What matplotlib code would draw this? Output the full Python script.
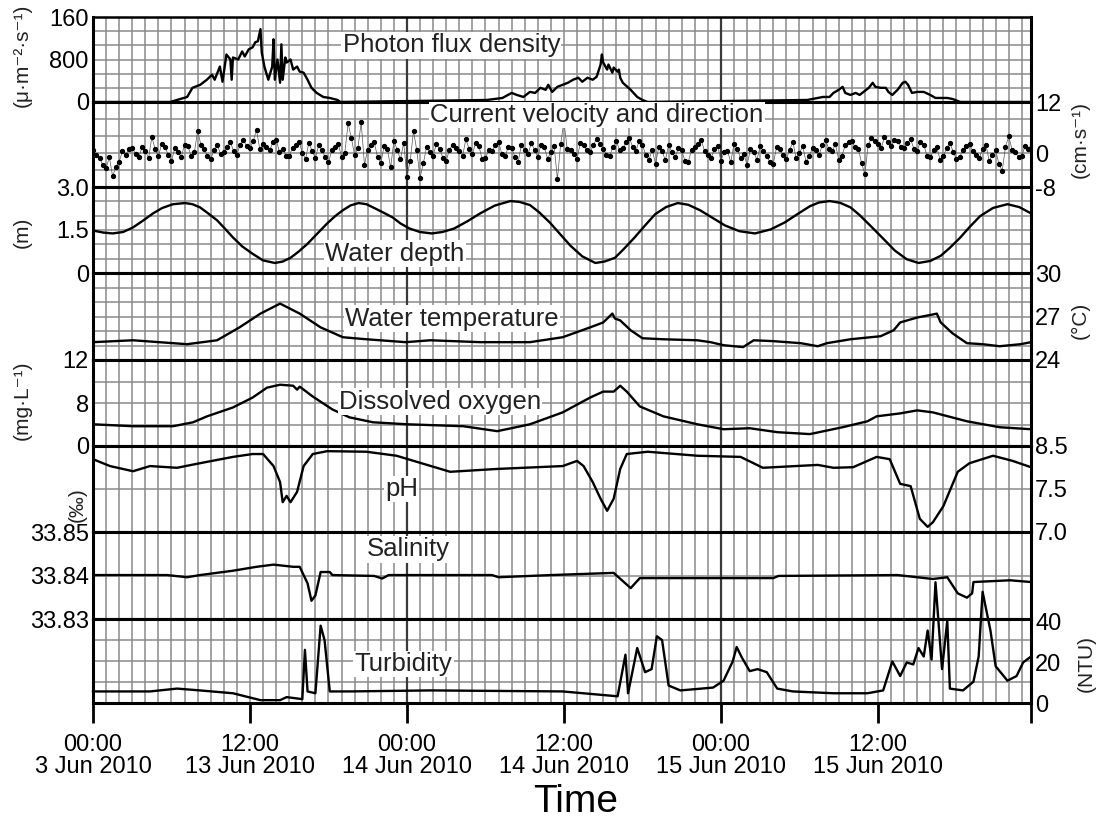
import matplotlib
matplotlib.use('Agg')
import matplotlib.pyplot as plt
import numpy as np

plt.rcParams['font.family'] = ['Liberation Sans', 'DejaVu Sans']

# ---------------- data (hours since 13 Jun 2010 00:00) ----------------
photon_t = [0, 5.9, 7.2, 7.6, 8.2, 8.7, 9.1, 9.3, 9.7, 9.9, 10.2, 10.5, 10.6, 10.7, 11.1, 11.4,
            11.6, 11.9, 12.2, 12.4, 12.6, 12.8, 12.9, 13.1, 13.4, 13.7, 13.8, 13.9, 14.1, 14.3,
            14.4, 14.5, 14.7, 14.8, 15.1, 15.3, 15.6, 15.8, 16.1, 16.4, 16.7, 17.1, 17.6, 18.1,
            18.7, 18.9,
            30.1, 31.3, 32.0, 32.4, 32.9, 33.4, 33.8, 34.2, 34.6, 34.8, 35.1, 35.5, 35.9, 36.3,
            36.7, 37.1, 37.4, 37.8, 38.2, 38.5, 38.8, 38.9, 39.0, 39.3, 39.4, 39.7, 39.8, 40.1,
            40.2, 40.3, 40.5, 41.1, 41.6, 42.0, 42.4,
            54.6, 55.4, 55.8, 56.3, 56.6, 57.0, 57.3, 57.5, 57.9, 58.3, 58.6, 58.9, 59.3, 59.6,
            59.8, 60.2, 60.6, 60.8, 61.1, 61.5, 61.9, 62.1, 62.3, 62.6, 63.0, 63.5, 64.0, 64.4,
            64.8, 65.3, 65.7, 66.3, 71.7]
photon_v = [0, 0, 95, 267, 324, 419, 514, 419, 667, 381, 895, 800, 419, 838, 800, 952,
            857, 990, 1029, 1124, 1143, 1371, 933, 667, 419, 667, 1181, 419, 800, 362,
            1086, 419, 838, 743, 800, 610, 667, 571, 552, 419, 267, 171, 95, 76,
            38, 0,
            38, 76, 171, 133, 95, 190, 171, 267, 229, 324, 190, 286, 324, 362,
            419, 457, 381, 457, 419, 476, 705, 895, 743, 610, 705, 552, 648, 571,
            610, 457, 362, 229, 95, 38, 0,
            38, 76, 95, 95, 171, 229, 286, 171, 133, 171, 133, 190, 267, 362,
            286, 267, 267, 190, 133, 229, 362, 381, 324, 171, 190, 190, 133, 76,
            76, 76, 57, 0, 0]

# current velocity read every 15 min: values on the half hour and on the quarter past/to
current_half = [0.8, -1.2, -3.5, -5.5, -2.0, -0.5, 1.2, -1.0, 0.5, 3.8, -0.8, 1.5, -1.8, 0.3, 2.0, -0.6,
                5.2, 0.9, -1.5, 1.8, 0.2, 2.6, -0.4, 3.0, 1.2, 5.4, 2.2, 0.6, 3.1, 1.0, -0.8, 1.8,
                0.0, 2.4, -1.2, 0.7, -2.2, 1.5, -1.0, 7.0, -0.5, 7.2, 0.8, 2.5, -2.4, 1.0, 2.8, -1.5,
                -5.6, 5.2, -5.8, 1.4, -0.6, 0.9, -1.8, 2.0, 0.4, 3.2, -0.3, 1.6, -1.2, 0.5, 2.6, -0.8,
                1.1, -2.0, 0.7, 2.3, -0.9, 1.3, 0.2, -6.2, 7.4, 0.8, -1.4, 1.9, 0.3, 3.4, 1.0, -0.6,
                2.8, 1.2, 3.6, 0.5, 2.0, -1.6, -2.6, 0.4, 1.8, -1.0, 0.6, -2.2, 1.5, 3.0, -0.4, 0.9,
                -1.8, 0.5, 2.2, -1.2, -2.8, 0.3, 1.6, -0.8, -2.5, 0.9, -1.4, 2.5, 0.0, -2.0, 1.2, -0.5,
                3.0, 0.4, -1.6, 1.8, 2.8, 1.0, -5.0, 3.5, 2.2, 3.8, 1.6, 2.9, 1.2, 3.2, 0.5, 2.0,
                -1.0, 1.3, -0.8, 2.4, -1.5, 0.7, 2.1, -0.4, 1.0, -1.8, 0.6, -4.2, 3.9, 0.3, -0.6, 0.9]
current_quarter = [-0.5, -2.8, -1.0, -3.2, 0.4, 1.0, -0.2, 1.4, -1.2, 0.9, 2.2, -0.4, 1.1, -0.9, 1.6, 0.2,
                   1.9, -0.7, 0.8, -0.2, 1.5, 0.4, 2.0, 1.6, 2.8, 0.9, 1.4, 2.5, 0.3, -0.6, 1.2, 2.7,
                   -1.4, 0.5, 1.9, -1.0, 0.6, 2.2, 0.1, 3.5, 1.2, -2.8, 2.0, -0.9, 1.6, -3.4, 0.8, 2.4,
                   -1.8, 0.6, -2.4, 0.2, 2.1, -1.1, 0.8, 1.2, -0.7, 1.0, 2.4, -1.5, 0.7, 1.8, -0.2, 1.5,
                   -0.9, 1.9, -0.3, 0.8, 2.0, -1.3, 1.6, 2.2, 0.9, -0.3, 2.4, 0.6, 1.8, 2.2, -0.4, 1.5,
                   0.7, 2.5, 1.4, 2.9, -0.5, 0.8, 1.5, -1.7, 0.3, 1.1, -1.9, 0.8, 2.2, 0.4, -1.1, 1.7,
                   0.2, -2.2, 1.0, -0.3, 0.9, -1.6, 0.4, -2.1, 1.3, -0.5, 0.8, -1.2, 1.6, -0.8, 0.6, 1.9,
                   0.9, 2.1, -0.6, 2.6, 1.4, -2.4, 1.8, 2.9, 1.1, 2.6, 3.1, 1.5, 2.3, 1.0, 2.7, -0.7,
                   0.6, -1.6, 1.2, 0.3, -0.9, 1.6, 0.4, -1.2, 2.0, -0.5, -2.6, 1.5, 0.8, -1.0, 1.7, 2.2]
current_t = np.arange(0, 72, 0.25)
current_v = np.empty(len(current_t))
current_v[0::2] = current_half
current_v[1::2] = current_quarter

depth_t = [0, 0.8, 1.5, 2.3, 3.06, 3.8, 4.59, 5.3, 6.12, 7.03, 7.6, 8.18, 8.8, 9.48, 10.1, 10.7,
           11.4, 12.2, 13.0, 13.9, 14.5, 15.1, 15.7, 16.4, 17.2, 17.9, 18.5, 19.1, 19.7, 20.3,
           20.9, 21.4, 22.1, 22.9, 23.5, 24.2, 25.0, 25.9, 26.7, 27.6, 28.6, 29.6, 30.7, 31.9,
           32.6, 33.4, 34.1, 34.9, 35.7, 36.5, 37.4, 38.4, 39.1, 39.9, 40.6, 41.4, 42.2, 42.97,
           43.8, 44.7, 45.5, 46.4, 47.3, 48.3, 49.4, 50.6, 51.8, 52.9, 53.9, 54.8, 55.5, 56.3,
           57.1, 57.9, 58.6, 59.4, 60.4, 61.3, 62.2, 63.1, 64.0, 64.8, 65.5, 66.3, 67.0, 67.8,
           68.8, 69.9, 70.8, 71.7]
depth_v = [1.48, 1.41, 1.38, 1.43, 1.59, 1.82, 2.08, 2.27, 2.40, 2.44, 2.40, 2.29, 2.08, 1.84, 1.54, 1.24,
           0.93, 0.67, 0.44, 0.35, 0.40, 0.53, 0.74, 1.02, 1.40, 1.73, 1.98, 2.19, 2.36, 2.44,
           2.40, 2.29, 2.13, 1.94, 1.73, 1.55, 1.43, 1.38, 1.43, 1.55, 1.80, 2.08, 2.35, 2.51,
           2.48, 2.37, 2.12, 1.77, 1.36, 0.95, 0.58, 0.35, 0.40, 0.53, 0.85, 1.24, 1.66, 2.05,
           2.30, 2.44, 2.38, 2.19, 1.94, 1.66, 1.46, 1.38, 1.52, 1.77, 2.07, 2.33, 2.46, 2.51,
           2.45, 2.29, 2.02, 1.66, 1.20, 0.78, 0.48, 0.35, 0.42, 0.60, 0.88, 1.24, 1.60, 1.98,
           2.27, 2.40, 2.30, 2.08]

temp_t = [0, 3.06, 7.19, 9.48, 11.2, 12.8, 14.3, 15.8, 17.4, 19.1, 20.9, 23.9, 25.8, 29.6, 33.4,
          35.9, 38.0, 39.0, 39.7, 39.9, 40.3, 41.1, 42.0, 43.6, 46.2, 47.2, 48.2, 49.7, 50.5,
          52.0, 54.1, 55.4, 56.1, 57.9, 60.2, 61.2, 61.7, 63.0, 64.2, 64.5, 64.8, 65.7, 66.8,
          68.0, 69.3, 70.9, 71.7]
temp_v = [25.23, 25.36, 25.09, 25.36, 26.25, 27.20, 27.89, 27.20, 26.25, 25.57, 25.43, 25.23, 25.36,
          25.23, 25.23, 25.57, 26.25, 26.59, 27.20, 26.86, 26.73, 26.05, 25.50, 25.43, 25.36, 25.23,
          25.02, 24.89, 25.36, 25.30, 25.16, 24.95, 25.16, 25.43, 25.64, 26.05, 26.59, 26.93, 27.14,
          27.20, 26.59, 25.84, 25.16, 25.09, 24.95, 25.09, 25.23]

do_t = [0, 3.06, 6.12, 7.65, 8.72, 10.7, 12.2, 13.3, 14.3, 15.3, 15.6, 15.8, 16.8, 18.3, 19.6,
        21.4, 24.0, 28.3, 30.9, 33.4, 35.9, 38.0, 39.0, 39.8, 40.3, 40.8, 41.8, 43.6, 46.2, 48.2,
        50.2, 52.3, 54.8, 57.3, 59.2, 59.9, 61.7, 63.0, 64.2, 66.8, 69.3, 71.7]
do_v = [3.03, 2.76, 2.76, 3.31, 4.14, 5.38, 6.76, 8.14, 8.55, 8.41, 7.86, 8.28, 6.90, 5.10, 4.00,
        3.31, 3.03, 2.76, 2.07, 3.03, 4.69, 6.76, 7.59, 7.59, 8.41, 7.59, 5.52, 4.14, 3.03, 2.34,
        2.48, 1.93, 1.66, 2.62, 3.45, 4.14, 4.55, 4.97, 4.69, 3.45, 2.62, 2.34]

ph_t = [0, 1.3, 3.06, 4.36, 6.42, 8.18, 10.7, 12.2, 13.0, 13.8, 14.3, 14.5, 14.8, 15.1, 15.6,
        16.1, 16.8, 17.9, 20.9, 23.2, 27.3, 30.9, 35.9, 37.0, 37.5, 38.2, 38.8, 39.3, 39.8,
        40.3, 40.8, 42.4, 46.2, 49.5, 51.2, 55.4, 56.6, 58.1, 59.9, 60.9, 61.7, 62.5, 63.2,
        63.8, 64.2, 65.0, 66.1, 67.0, 68.8, 70.3, 71.7]
ph_v = [8.27, 8.15, 8.06, 8.15, 8.12, 8.20, 8.31, 8.36, 8.36, 8.15, 7.87, 7.52, 7.63, 7.52, 7.70,
        8.15, 8.36, 8.41, 8.40, 8.33, 8.05, 8.10, 8.15, 8.24, 8.15, 7.87, 7.58, 7.37, 7.58,
        8.10, 8.36, 8.40, 8.33, 8.31, 8.12, 8.17, 8.12, 8.13, 8.31, 8.27, 7.84, 7.80, 7.23,
        7.09, 7.17, 7.45, 8.05, 8.20, 8.33, 8.24, 8.13]

sal_t = [0, 5.66, 7.19, 8.18, 10.7, 12.5, 13.8, 15.3, 15.8, 16.4, 16.7, 17.0, 17.4, 18.1, 18.3,
         21.5, 22.1, 22.6, 24.0, 30.5, 31.0, 35.0, 39.8, 41.1, 41.8, 46.4, 52.0, 52.4, 61.5,
         64.2, 65.3, 66.1, 66.8, 67.2, 67.3, 70.1, 71.7]
sal_v = [33.8401, 33.8401, 33.8396, 33.8401, 33.8411, 33.8420, 33.8425, 33.8420, 33.8420, 33.8382,
         33.8342, 33.8354, 33.8408, 33.8408, 33.8401, 33.8399, 33.8393, 33.8401, 33.8401, 33.8401,
         33.8396, 33.8401, 33.8406, 33.8371, 33.8394, 33.8394, 33.8394, 33.8399, 33.8401, 33.8392,
         33.8396, 33.8359, 33.8349, 33.8359, 33.8385, 33.8389, 33.8385]

turb_t = [0, 4.36, 6.42, 8.18, 10.7, 12.8, 14.3, 14.8, 16.0, 16.2, 16.4, 17.0, 17.4, 17.7, 18.1,
          19.6, 25.8, 35.9, 40.1, 40.7, 40.9, 41.6, 42.2, 42.7, 43.1, 43.5, 44.0, 44.9, 47.4,
          48.2, 48.9, 49.2, 49.6, 50.2, 50.8, 51.5, 52.3, 53.5, 56.6, 59.2, 60.4, 61.1, 61.7,
          62.2, 62.7, 63.1, 63.5, 63.8, 64.1, 64.4, 64.9, 65.3, 65.5, 66.5, 67.3, 67.7, 68.0,
          68.6, 69.0, 69.9, 70.6, 71.1, 71.7]
turb_v = [5.7, 5.7, 7.1, 6.2, 4.8, 1.4, 1.4, 2.9, 1.9, 26.2, 5.7, 4.8, 38.1, 31.0, 5.7,
          5.7, 6.2, 5.7, 3.3, 23.8, 4.8, 27.1, 15.2, 16.7, 32.9, 31.0, 8.6, 6.2, 7.6,
          11.0, 20.5, 27.6, 22.4, 15.7, 16.7, 15.2, 7.1, 5.7, 4.8, 4.8, 6.2, 20.5, 13.3,
          20.0, 19.0, 27.1, 22.9, 35.7, 21.4, 59.5, 16.7, 40.5, 7.1, 6.2, 10.5, 22.9, 54.8,
          35.7, 18.1, 11.0, 13.3, 20.0, 22.9]

xtick_hours = [0, 12, 24, 36, 48, 60, 71.7]
xtick_labels = ['00:00\n3 Jun 2010', '12:00\n13 Jun 2010', '00:00\n14 Jun 2010',
                '12:00\n14 Jun 2010', '00:00\n15 Jun 2010', '12:00\n15 Jun 2010', '']

panel_names = ['Photon flux density', 'Current velocity and direction', 'Water depth',
               'Water temperature', 'Dissolved oxygen', 'pH', 'Salinity', 'Turbidity']

# ---------------- layout ----------------
W, H = 1100, 818
fig = plt.figure(figsize=(W / 100, H / 100), dpi=100)
L, R = 93, 1031
bounds = [17, 102, 187, 273, 360, 446, 532, 619, 703]
XMAX = 71.7

panels = [
    dict(t=photon_t, v=photon_v, ylim=(0, 1600), ticks=[0, 800, 1600], labels=['0', '800', '160'],
         side='left', ngrid=6, lab=(0.382, 0.667)),
    dict(t=current_t, v=current_v, ylim=(-8, 12), ticks=[-8, 0, 12], labels=['-8', '0', '12'],
         side='right', ngrid=5, lab=(0.537, 0.847)),
    dict(t=depth_t, v=depth_v, ylim=(0, 3), ticks=[0, 1.5, 3], labels=['0', '1.5', '3.0'],
         side='left', ngrid=6, lab=(0.322, 0.224)),
    dict(t=temp_t, v=temp_v, ylim=(24, 30), ticks=[24, 27, 30], labels=['24', '27', '30'],
         side='right', ngrid=6, lab=(0.383, 0.477)),
    dict(t=do_t, v=do_v, ylim=(0, 12), ticks=[0, 6, 12], labels=['0', '8', '12'],
         side='left', ngrid=4, lab=(0.370, 0.517)),
    dict(t=ph_t, v=ph_v, ylim=(7.0, 8.5), ticks=[7.0, 7.75, 8.5], labels=['7.0', '7.5', '8.5'],
         side='right', ngrid=2, lab=(0.329, 0.50)),
    dict(t=sal_t, v=sal_v, ylim=(33.83, 33.85), ticks=[33.83, 33.84, 33.85],
         labels=['33.83', '33.84', '33.85'], side='left', ngrid=2, lab=(0.336, 0.80)),
    dict(t=turb_t, v=turb_v, ylim=(0, 41.4), ticks=[0, 20, 40], labels=['0', '20', '40'],
         side='right', ngrid=4, lab=(0.331, 0.465)),
]

grid_c = '#8a8a8a'
axes = []
for i, p in enumerate(panels):
    top, bot = bounds[i], bounds[i + 1]
    ax = fig.add_axes([L / W, 1 - bot / H, (R - L) / W, (bot - top) / H])
    axes.append(ax)
    ax.set_xlim(0, XMAX)
    ax.set_ylim(*p['ylim'])
    y0, y1 = p['ylim']
    # grid
    for hh in range(1, 72):
        ax.axvline(hh, color=grid_c, lw=1.1, zorder=0.5)
    for hh in (24, 48):
        ax.axvline(hh, color='#3a3a3a', lw=1.6, zorder=0.6)
    for k in range(1, p['ngrid']):
        ax.axhline(y0 + k * (y1 - y0) / p['ngrid'], color=grid_c, lw=1.1, zorder=0.5)
    # data
    if i == 1:
        ax.plot(p['t'], p['v'], color='#555555', lw=0.5, zorder=2)
        ax.plot(p['t'], p['v'], ls='none', marker='o', ms=2.8, color='black', zorder=3)
    else:
        ax.plot(p['t'], p['v'], color='black', lw=1.7, zorder=3, clip_on=(i != 7))
    # spines
    for s in ax.spines.values():
        s.set_linewidth(2.2)
        s.set_color('black')
    ax.spines['top'].set_linewidth(1.8 if i == 0 else 2.2)
    # y ticks
    ax.set_yticks(p['ticks'])
    ax.set_yticklabels(p['labels'])
    if p['side'] == 'right':
        ax.yaxis.tick_right()
    else:
        ax.yaxis.tick_left()
    ax.tick_params(axis='y', length=0, pad=3, labelsize=17)
    # panel label
    ax.text(p['lab'][0], p['lab'][1], panel_names[i], transform=ax.transAxes,
            ha='center', va='center', fontsize=18.5, color='#222222', zorder=5,
            bbox=dict(facecolor='white', edgecolor='none', pad=1.0))
    if i < 7:
        ax.set_xticks([])
        ax.tick_params(axis='x', length=0)

axb = axes[-1]
axb.set_xticks(xtick_hours)
axb.set_xticklabels(xtick_labels)
axb.tick_params(axis='x', direction='out', length=14.5, width=2, pad=8, labelsize=17)
for lbl in axb.get_xticklabels():
    lbl.set_linespacing(1.0)
axb.set_xlabel('Time', fontsize=28)
axb.xaxis.set_label_coords((576 - L) / (R - L), (703 - 784) / (703 - 619))

# units
def unit(txt, x, y, size=15):
    fig.text(x / W, 1 - y / H, txt, rotation=90, ha='center', va='center', fontsize=size,
             color='#222222')

unit('(μ·m⁻²·s⁻¹)', 22, 55)
unit('(m)', 22, 232)
unit('(mg·L⁻¹)', 22, 400)
unit('(‰)', 77, 505)
unit('(cm·s⁻¹)', 1080, 140)
unit('(°C)', 1080, 320)
unit('(NTU)', 1086, 663)

fig.savefig('out.png', dpi=100)
